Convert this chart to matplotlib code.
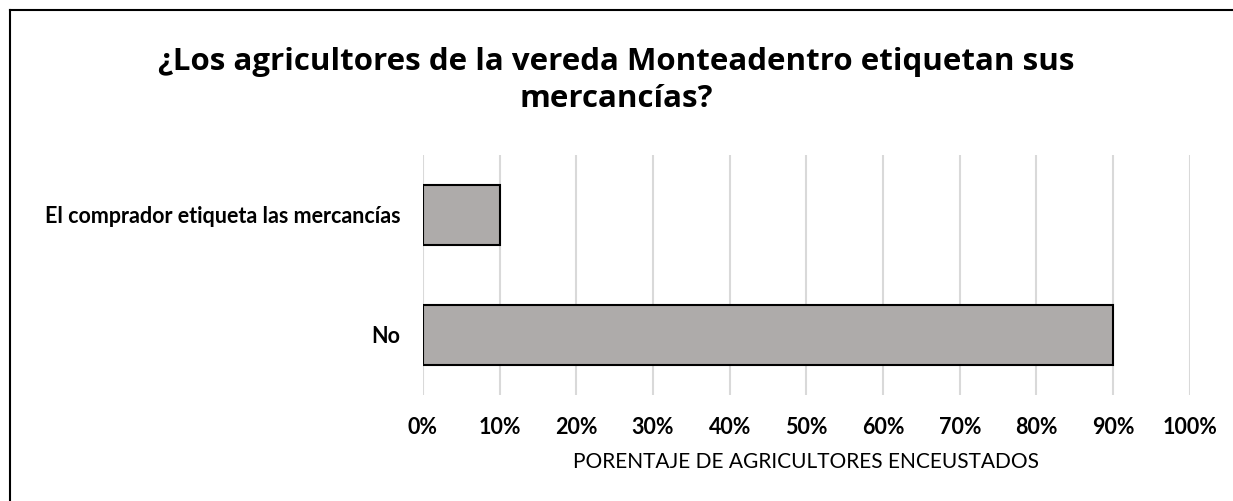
import matplotlib.pyplot as plt
from matplotlib.lines import Line2D
from matplotlib.ticker import PercentFormatter

# Data
categories = ["No", "El comprador etiqueta las mercancías"]
values = [90, 10]
xticks = list(range(0, 101, 10))

title = "¿Los agricultores de la vereda Monteadentro etiquetan sus\nmercancías?"
xlabel = "PORENTAJE DE AGRICULTORES ENCEUSTADOS"

bar_color = "#AEABAA"
grid_color = "#D9D9D9"

fig = plt.figure(figsize=(12.33, 5.01), dpi=100)
ax = fig.add_axes([0.343, 0.2116, 0.622, 0.4794])

ax.barh(categories, values, height=0.5, color=bar_color,
        edgecolor="black", linewidth=1.5, zorder=3)

ax.set_xlim(0, 100)
ax.set_ylim(-0.5, 1.5)
ax.set_xticks(xticks)
ax.xaxis.set_major_formatter(PercentFormatter(decimals=0))
ax.grid(axis="x", color=grid_color, linewidth=1.5, zorder=0)
for s in ax.spines.values():
    s.set_visible(False)
ax.tick_params(length=0)
ax.tick_params(axis="x", pad=16)
ax.tick_params(axis="y", pad=16)

for lab in ax.get_xticklabels() + ax.get_yticklabels():
    lab.set_fontfamily("Lato")
    lab.set_fontweight("bold")
    lab.set_fontsize(15.5)

ax.set_xlabel(xlabel, fontfamily="Lato", fontsize=15, labelpad=10)

fig.text(0.5, 0.84, title, ha="center", va="center", fontsize=22.5,
         fontweight="bold", fontfamily="Open Sans", linespacing=1.3)

# frame around the chart area (right and bottom edges fall outside the image)
fig.add_artist(Line2D([10 / 1233, 10 / 1233], [1 - 10 / 501, -0.1],
                      transform=fig.transFigure, color="black", linewidth=1.5))
fig.add_artist(Line2D([10 / 1233, 1.1], [1 - 10 / 501, 1 - 10 / 501],
                      transform=fig.transFigure, color="black", linewidth=1.5))

fig.savefig("out.png", dpi=100)
